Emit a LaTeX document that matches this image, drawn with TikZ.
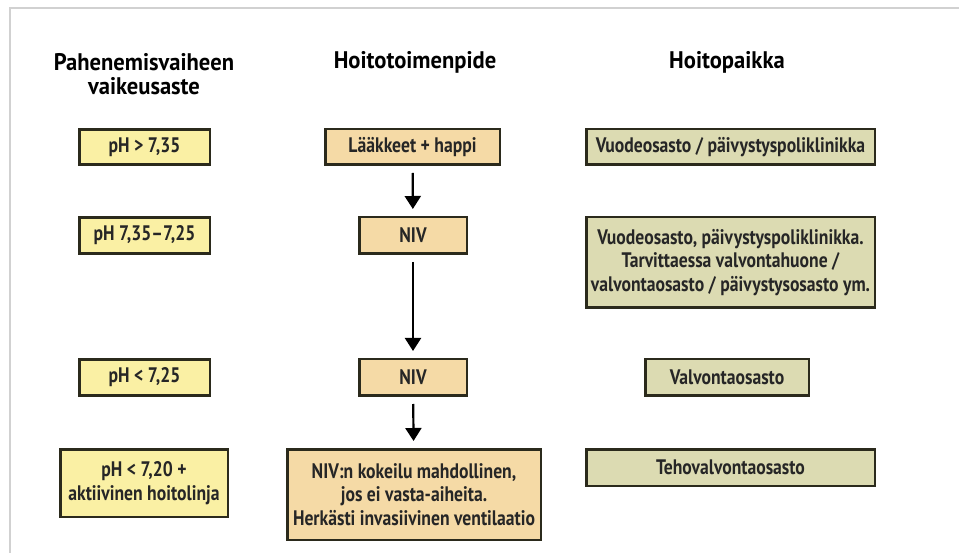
\documentclass[tikz,border=0pt]{standalone}
\usepackage{fontspec}
\setmainfont{PT Sans}[FakeStretch=0.8]
\newfontfamily\laatikkofont{PT Sans}[FakeStretch=0.84]
\newfontfamily\otsikkofont{PT Sans}[FakeStretch=0.94]
\usetikzlibrary{arrows.meta}
\definecolor{phfill}{HTML}{FAF0A4}
\definecolor{hoitofill}{HTML}{F5DAA6}
\definecolor{paikkafill}{HTML}{DCDBB2}
\definecolor{boxline}{HTML}{2B2A1C}

\begin{document}
\begin{tikzpicture}[x=1pt,y=-1pt,
  box/.style={draw=boxline,line width=2.5pt,inner sep=0pt,align=center,font=\laatikkofont\bfseries\fontsize{21}{23.5}\selectfont,text=black!85},
  phbox/.style={box,fill=phfill},
  hoitobox/.style={box,fill=hoitofill},
  paikkabox/.style={box,fill=paikkafill},
  otsikko/.style={align=center,font=\otsikkofont\bfseries\fontsize{24}{24}\selectfont},
  nuoli/.style={line width=2.2pt,-{Triangle[width=16pt,length=13pt]},shorten <=7pt,shorten >=7pt}]

\useasboundingbox (0,0) rectangle (959,553);
\draw[black!18,line width=1.2pt] (10,553) -- (10,8) -- (959,8);

\node[otsikko] (h1) at (144,74) {Pahenemisvaiheen\\vaikeusaste};
\node[otsikko] (h2) at (415,62) {Hoitotoimenpide};
\node[otsikko] (h3) at (727,62) {Hoitopaikka};

\node[phbox,minimum width=130.5pt,minimum height=35pt] (ph1) at (144.5,147) {pH > 7,35};
\node[phbox,minimum width=130.5pt,minimum height=36pt] (ph2) at (144.5,235.5) {pH 7,35–7,25};
\node[phbox,minimum width=130.5pt,minimum height=36pt] (ph3) at (144.5,377.5) {pH < 7,25};
\node[phbox,minimum width=167.5pt,minimum height=67.5pt] (ph4) at (144,483) {pH < 7,20 +\\aktiivinen hoitolinja};

\node[hoitobox,minimum width=174.5pt,minimum height=35.5pt] (hoito1) at (412.5,147) {Lääkkeet + happi};
\node[hoitobox,minimum width=107.5pt,minimum height=36.5pt] (hoito2) at (413,235.5) {NIV};
\node[hoitobox,minimum width=107.5pt,minimum height=36.5pt] (hoito3) at (413,377.5) {NIV};
\node[hoitobox,minimum width=253.5pt,minimum height=90.5pt] (hoito4) at (414,494.5) {NIV:n kokeilu mahdollinen,\\jos ei vasta-aiheita.\\Herkästi invasiivinen ventilaatio};

\node[paikkabox,minimum width=288.5pt,minimum height=35.5pt] (paikka1) at (730.5,147) {Vuodeosasto / päivystyspoliklinikka};
\node[paikkabox,minimum width=288.5pt,minimum height=90.5pt] (paikka2) at (730.5,262.5) {Vuodeosasto, päivystyspoliklinikka.\\Tarvittaessa valvontahuone /\\valvontaosasto / päivystysosasto ym.};
\node[paikkabox,minimum width=163.5pt,minimum height=36.5pt] (paikka3) at (727,377.5) {Valvontaosasto};
\node[paikkabox,minimum width=288.5pt,minimum height=36.5pt] (paikka4) at (730.5,467.5) {Tehovalvontaosasto};

\draw[nuoli] (hoito1) -- (hoito2);
\draw[nuoli] (hoito2) -- (hoito3);
\draw[nuoli] (hoito3) -- (hoito4);
\end{tikzpicture}
\end{document}
